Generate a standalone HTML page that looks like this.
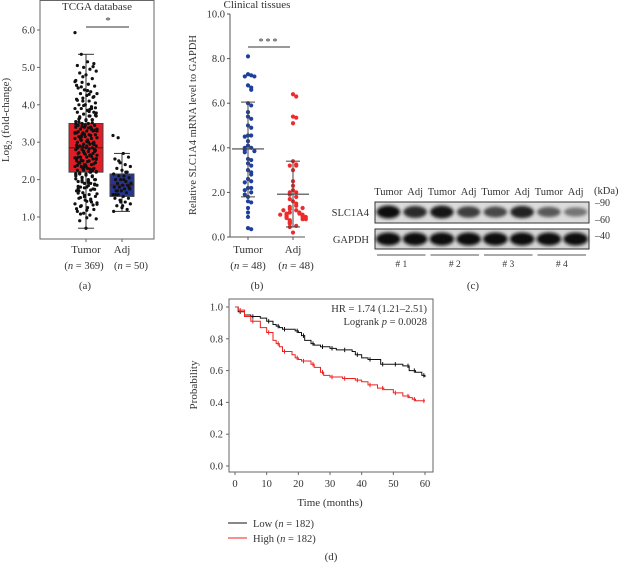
<!DOCTYPE html>
<html><head><meta charset="utf-8">
<style>
html,body{margin:0;padding:0;background:#fff;}
svg{display:block;font-family:"Liberation Serif",serif;}
text{fill:#333;}
</style></head>
<body>
<svg id="fig" width="620" height="565" viewBox="0 0 620 565">
<defs>
<filter id="blur" x="-20%" y="-50%" width="140%" height="200%"><feGaussianBlur stdDeviation="1.6"/></filter>
</defs>
<g id="pa"></g>
<g id="pb"></g>
<g id="pc"></g>
<g id="pd"></g>
</svg>
<script>
// ---------- data ----------
const tcgaTumorVals=[5.93,5.35,5.15,5.1,5.05,5.0,4.95,4.9,4.85,4.8,4.7,4.65,4.6,4.55,4.5,4.45,4.4,4.35,4.3,4.3,4.25,4.2,4.15,4.1,4.1,4.05,4.0,4.0,3.95,3.9,3.9,3.85,3.8,3.8,3.75,3.7,3.7,3.65,3.6,3.6,3.55,3.5,3.5,3.45,3.45,3.4,3.4,3.35,3.35,3.3,3.3,3.25,3.25,3.2,3.2,3.15,3.15,3.1,3.1,3.05,3.05,3.0,3.0,2.95,2.95,2.9,2.9,2.85,2.85,2.8,2.8,2.75,2.75,2.7,2.7,2.65,2.65,2.6,2.6,2.55,2.55,2.5,2.5,2.45,2.45,2.4,2.4,2.35,2.35,2.3,2.3,2.25,2.25,2.2,2.2,2.15,2.15,2.1,2.1,2.05,2.0,2.0,1.95,1.9,1.9,1.85,1.8,1.8,1.75,1.7,1.65,1.6,1.55,1.5,1.45,1.4,1.35,1.3,1.25,1.2,1.15,1.1,1.05,0.95,0.9,0.7,3.6,3.4,3.2,3.0,2.8,2.6,2.4,2.2,3.3,3.1,2.9,2.7,2.5,2.3,3.7,2.0,1.7,4.0,3.9,
4.62,4.48,4.38,4.22,4.12,3.98,3.88,3.78,3.68,3.58,3.52,3.48,3.42,3.38,3.32,3.28,3.22,3.18,3.12,3.08,3.02,2.98,2.92,2.88,2.82,2.78,2.72,2.68,2.62,2.58,2.52,2.48,2.42,2.38,2.32,2.28,2.22,2.18,2.12,2.08,2.02,1.98,1.92,1.88,1.82,1.78,1.72,1.62,1.52,1.42,1.32,1.22,4.75,4.28,3.92,3.62,3.46,3.36,3.26,3.16,3.06,2.96,2.86,2.76,2.66,2.56,2.46,2.36,2.26,2.16,2.06,1.96,1.86,1.76,1.58,1.48,1.38,1.28,1.18,5.02,4.52,4.18,3.82,3.72,3.54,3.44,3.34,3.24,3.14,3.04,2.94,2.84,2.74,2.64,2.54,2.44,2.34,2.24,2.14,1.94,1.84,1.74,1.64,1.54,1.44,1.34,1.08,0.98];
const tcgaAdjVals=[3.18,3.12,2.7,2.6,2.55,2.45,2.4,2.35,2.3,2.25,2.2,2.15,2.1,2.1,2.05,2.0,2.0,1.95,1.9,1.9,1.85,1.85,1.8,1.8,1.75,1.75,1.7,1.7,1.65,1.6,1.6,1.55,1.5,1.5,1.45,1.4,1.35,1.3,1.25,1.2,1.15,2.5,2.0,1.8,1.6,1.4,2.2,1.9,1.7,1.3];
const tcgaStats=[{q1:2.2,med:2.85,q3:3.5,lo:0.7,hi:5.35},{q1:1.55,med:1.85,q3:2.15,lo:1.15,hi:2.7}];
const clinTumor=[8.1,7.3,7.25,7.2,7.2,6.8,6.7,6.6,6.0,5.9,5.4,5.3,5.0,4.9,4.55,4.55,4.5,4.1,4.0,4.0,3.9,3.85,3.8,3.5,3.45,3.3,3.0,2.9,2.6,2.5,2.45,2.2,2.2,2.1,2.0,1.8,1.6,1.55,1.3,1.1,0.9,0.4,0.35,3.2,2.8,4.3,5.6,1.9];
const clinAdj=[6.4,6.3,5.4,5.35,5.1,3.4,3.25,3.2,3.2,2.3,2.1,2.0,2.0,1.9,1.8,1.6,1.5,1.4,1.35,1.25,1.2,1.1,1.1,1.05,1.05,1.0,1.0,0.95,0.95,0.9,0.9,0.85,0.8,0.75,0.7,0.65,0.6,0.5,0.45,0.2,1.2,1.0,0.9,2.5,3.0,1.7,0.8,1.3];
const clinStats=[{mean:3.95,hi:6.05,lo:1.8},{mean:1.92,hi:3.4,lo:0.45}];
const kmTimes=[0,1,3,5,8,10,12,13,14,15,18,19,20,21,22,24,25,27,28,30,32,34,37,38,40,42,45,46,47,50,53,54,55,56,57,59,60];
const kmLow=[1.0,0.97,0.95,0.94,0.93,0.91,0.89,0.88,0.87,0.86,0.86,0.85,0.84,0.82,0.79,0.77,0.76,0.75,0.75,0.74,0.73,0.73,0.72,0.70,0.68,0.67,0.67,0.64,0.64,0.64,0.63,0.63,0.60,0.60,0.59,0.57,0.56];
const kmHigh=[1.0,0.98,0.94,0.91,0.87,0.84,0.79,0.77,0.75,0.72,0.70,0.68,0.67,0.66,0.66,0.64,0.62,0.59,0.57,0.56,0.56,0.55,0.55,0.54,0.53,0.51,0.49,0.49,0.48,0.46,0.44,0.44,0.43,0.42,0.41,0.41,0.41];
const lanes=["Tumor","Adj","Tumor","Adj","Tumor","Adj","Tumor","Adj"];
const slcIntensity=[1.0,0.85,0.95,0.75,0.7,0.9,0.6,0.45];

const NS="http://www.w3.org/2000/svg";
function mk(parent,tag,attrs,txt){const e=document.createElementNS(NS,tag);for(const k in attrs)e.setAttribute(k,attrs[k]);if(txt!==undefined)e.textContent=txt;parent.appendChild(e);return e;}

// ---------- panel a ----------
(function(){
const g=document.getElementById('pa');
const yA=v=>217-(v-1)*37.4;
const xs=[86,122];
let f=mk(g,'rect',{x:40,y:0.5,width:114,height:238.5,fill:'none',stroke:'#666','stroke-width':1});

mk(g,'text',{x:97,y:10,'font-size':11,'text-anchor':'middle'},'TCGA database');
[1,2,3,4,5,6].forEach(v=>{
  mk(g,'line',{x1:37,x2:40,y1:yA(v),y2:yA(v),stroke:'#666'});
  const t=mk(g,'text',{x:35,y:yA(v)+3.5,'font-size':10.5,'text-anchor':'end'},v.toFixed(1));
  
});
const yl=mk(g,'text',{x:0,y:0,'font-size':11,'text-anchor':'middle',transform:'translate(9,120) rotate(-90)'});

yl.innerHTML='Log<tspan font-size="8" dy="3">2</tspan><tspan dy="-3"> (fold-change)</tspan>';
const cols=['#e01d24','#263590'];
tcgaStats.forEach((s,i)=>{
  const x=xs[i],w=i?24:34;
  mk(g,'line',{x1:x,x2:x,y1:yA(s.hi),y2:yA(s.lo),stroke:'#333'});
  mk(g,'line',{x1:x-8,x2:x+8,y1:yA(s.hi),y2:yA(s.hi),stroke:'#333'});
  mk(g,'line',{x1:x-8,x2:x+8,y1:yA(s.lo),y2:yA(s.lo),stroke:'#333'});
  const b=mk(g,'rect',{x:x-w/2,y:yA(s.q3),width:w,height:yA(s.q1)-yA(s.q3),fill:cols[i],stroke:'#444'});
  
  mk(g,'line',{x1:x-w/2,x2:x+w/2,y1:yA(s.med),y2:yA(s.med),stroke:'#6a1010','stroke-width':1.2});
  mk(g,'line',{x1:x,x2:x,y1:239,y2:242,stroke:'#666'});
});
[tcgaTumorVals,tcgaAdjVals].forEach((arr,i)=>{
  const spread=i?9:11;
  arr.forEach((v,k)=>{
    const off=(((k*37)%29)/28-0.5)*2*spread;
    const c=mk(g,'circle',{cx:xs[i]+off,cy:yA(v),r:1.6,fill:'#111'});
    
  });
});
mk(g,'line',{x1:86,x2:129,y1:27,y2:27,stroke:'#333'});
mk(g,'text',{x:108,y:24,'font-size':11,'text-anchor':'middle'},'*');
mk(g,'text',{x:86,y:253,'font-size':11,'text-anchor':'middle'},'Tumor');
mk(g,'text',{x:122,y:253,'font-size':11,'text-anchor':'middle'},'Adj');
const n1=mk(g,'text',{x:84,y:269,'font-size':10.5,'text-anchor':'middle'});n1.innerHTML='(<tspan font-style="italic">n</tspan> = 369)';
const n2=mk(g,'text',{x:131,y:269,'font-size':10.5,'text-anchor':'middle'});n2.innerHTML='(<tspan font-style="italic">n</tspan> = 50)';
mk(g,'text',{x:85,y:289,'font-size':11,'text-anchor':'middle'},'(a)');
})();

// ---------- panel b ----------
(function(){
const g=document.getElementById('pb');
const yB=v=>237-v*22.3;
const xs=[248,293];
mk(g,'text',{x:257,y:8,'font-size':11,'text-anchor':'middle'},'Clinical tissues');
mk(g,'line',{x1:230,x2:230,y1:yB(10),y2:yB(0),stroke:'#555'});
mk(g,'line',{x1:230,x2:305,y1:yB(0),y2:yB(0),stroke:'#555'});
[0,2,4,6,8,10].forEach(v=>{
  mk(g,'line',{x1:227,x2:230,y1:yB(v),y2:yB(v),stroke:'#555'});
  const t=mk(g,'text',{x:225,y:yB(v)+3.5,'font-size':10.5,'text-anchor':'end'},v.toFixed(1));
  
});
const yl=mk(g,'text',{x:0,y:0,'font-size':10.5,'text-anchor':'middle',transform:'translate(196,125) rotate(-90)'},'Relative SLC1A4 mRNA level to GAPDH');

const cols=['#1f3f9e','#ee2a2a'];
[clinTumor,clinAdj].forEach((arr,i)=>{
  arr.forEach((v,k)=>{
    const same=arr.slice(0,k).filter(u=>Math.abs(u-v)<0.15).length;
    const step=Math.min(Math.ceil(same/2),4);
    const off=(same%2?1:-1)*step*3.2;
    const c=mk(g,'circle',{cx:xs[i]+off,cy:yB(v),r:2.1,fill:cols[i]});
    
  });
});
clinStats.forEach((s,i)=>{
  const x=xs[i];
  mk(g,'line',{x1:x,x2:x,y1:yB(s.hi),y2:yB(s.lo),stroke:'#444'});
  mk(g,'line',{x1:x-16,x2:x+16,y1:yB(s.mean),y2:yB(s.mean),stroke:'#444','stroke-width':1.2});
  mk(g,'line',{x1:x-7,x2:x+7,y1:yB(s.hi),y2:yB(s.hi),stroke:'#444'});
  mk(g,'line',{x1:x-7,x2:x+7,y1:yB(s.lo),y2:yB(s.lo),stroke:'#444'});
  mk(g,'line',{x1:x,x2:x,y1:237,y2:240,stroke:'#555'});
});
mk(g,'line',{x1:248,x2:290,y1:47,y2:47,stroke:'#333'});
mk(g,'text',{x:269,y:45,'font-size':10,'text-anchor':'middle','letter-spacing':'2'},'***');
mk(g,'text',{x:248,y:253,'font-size':11,'text-anchor':'middle'},'Tumor');
mk(g,'text',{x:293,y:253,'font-size':11,'text-anchor':'middle'},'Adj');
const n1=mk(g,'text',{x:248,y:269,'font-size':11,'text-anchor':'middle'});n1.innerHTML='(<tspan font-style="italic">n</tspan> = 48)';
const n2=mk(g,'text',{x:296,y:269,'font-size':11,'text-anchor':'middle'});n2.innerHTML='(<tspan font-style="italic">n</tspan> = 48)';
mk(g,'text',{x:257,y:289,'font-size':11,'text-anchor':'middle'},'(b)');
})();

// ---------- panel c ----------
(function(){
const g=document.getElementById('pc');
const x0=375,w=214,lw=w/lanes.length;
lanes.forEach((l,i)=>{
  const t=mk(g,'text',{x:x0+lw*(i+0.5),y:195,'font-size':10.5,'text-anchor':'middle'},l);
  
});
mk(g,'text',{x:594,y:194,'font-size':10.5},'(kDa)');
const b1=mk(g,'rect',{x:x0,y:202,width:w,height:21,fill:'#dcdcdc',stroke:'#333'});

const b2=mk(g,'rect',{x:x0,y:229,width:w,height:20,fill:'#d4d4d4',stroke:'#333'});

slcIntensity.forEach((v,i)=>{
  const c=Math.round(200-v*185);
  const e=mk(g,'ellipse',{cx:x0+lw*(i+0.5),cy:212,rx:lw*0.44,ry:3+v*3.5,fill:`rgb(${c},${c},${c})`,filter:'url(#blur)'});
  
  const e2=mk(g,'ellipse',{cx:x0+lw*(i+0.5),cy:239,rx:lw*0.46,ry:6.5,fill:'#111',filter:'url(#blur)'});
  
});
mk(g,'text',{x:369,y:216,'font-size':10.5,'text-anchor':'end'},'SLC1A4');
mk(g,'text',{x:369,y:243,'font-size':10.5,'text-anchor':'end'},'GAPDH');
mk(g,'text',{x:595,y:206,'font-size':10},'–90');
mk(g,'text',{x:595,y:223,'font-size':10},'–60');
mk(g,'text',{x:595,y:239,'font-size':10},'–40');
[1,2,3,4].forEach((n,i)=>{
  const a=x0+lw*2*i+2,b=x0+lw*2*(i+1)-3;
  mk(g,'line',{x1:a,x2:b,y1:255,y2:255,stroke:'#555'});
  mk(g,'text',{x:(a+b)/2,y:267,'font-size':9.5,'text-anchor':'middle'},'# '+n);
});
mk(g,'text',{x:473,y:289,'font-size':11,'text-anchor':'middle'},'(c)');
})();

// ---------- panel d ----------
(function(){
const g=document.getElementById('pd');
const xD=t=>235+t*(190/60), yD=p=>466-p*159;
const fr=mk(g,'rect',{x:229,y:299,width:204,height:173,fill:'none',stroke:'#666'});

[0,0.2,0.4,0.6,0.8,1.0].forEach(v=>{
  mk(g,'line',{x1:226,x2:229,y1:yD(v),y2:yD(v),stroke:'#666'});
  mk(g,'text',{x:223,y:yD(v)+3.5,'font-size':10.5,'text-anchor':'end'},v.toFixed(1));
});
[0,10,20,30,40,50,60].forEach(v=>{
  mk(g,'line',{x1:xD(v),x2:xD(v),y1:472,y2:475,stroke:'#666'});
  mk(g,'text',{x:xD(v),y:487,'font-size':10.5,'text-anchor':'middle'},v);
});
mk(g,'text',{x:330,y:506,'font-size':11,'text-anchor':'middle'},'Time (months)');
mk(g,'text',{x:0,y:0,'font-size':11,'text-anchor':'middle',transform:'translate(197,385) rotate(-90)'},'Probability');
[[kmLow,'#111','km-low'],[kmHigh,'#ee2020','km-high']].forEach(([arr,col,nm])=>{
  let d='M'+xD(kmTimes[0])+','+yD(arr[0]);
  for(let i=1;i<kmTimes.length;i++){d+=' H'+xD(kmTimes[i])+' V'+yD(arr[i]);}
  const p=mk(g,'path',{d:d,fill:'none',stroke:col,'stroke-width':1});
  
  kmTimes.forEach((t,i)=>{ if(i%2==1){
    const x=xD(t)+2,y=yD(arr[i]);
    mk(g,'path',{d:`M${x},${y-2.2}V${y+2.2}`,stroke:col,'stroke-width':1});
  }});
});
mk(g,'text',{x:427,y:312,'font-size':10.5,'text-anchor':'end'},'HR = 1.74 (1.21–2.51)');
const lr=mk(g,'text',{x:427,y:325,'font-size':10.5,'text-anchor':'end'});lr.innerHTML='Logrank <tspan font-style="italic">p</tspan> = 0.0028';
mk(g,'line',{x1:228,x2:247,y1:523,y2:523,stroke:'#111'});
const l1=mk(g,'text',{x:253,y:527,'font-size':10.5});l1.innerHTML='Low (<tspan font-style="italic">n</tspan> = 182)';

mk(g,'line',{x1:228,x2:247,y1:538,y2:538,stroke:'#ee2020'});
const l2=mk(g,'text',{x:253,y:542,'font-size':10.5});l2.innerHTML='High (<tspan font-style="italic">n</tspan> = 182)';

mk(g,'text',{x:331,y:560,'font-size':11,'text-anchor':'middle'},'(d)');
})();
</script>
</body></html>
